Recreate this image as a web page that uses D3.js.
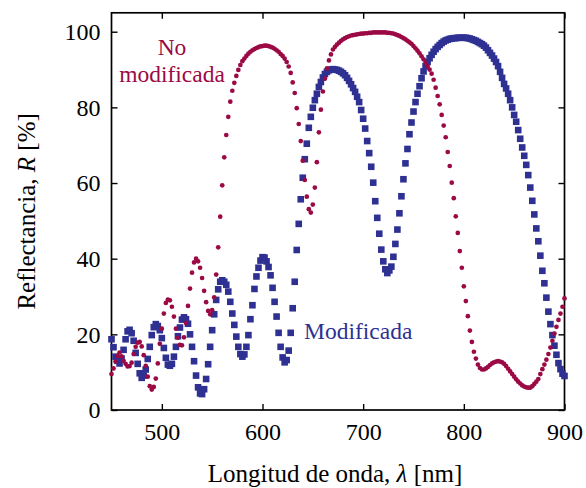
<!DOCTYPE html>
<html>
<head>
<meta charset="utf-8">
<script src="https://cdn.jsdelivr.net/npm/d3@7"></script>
<style>
  html, body { margin: 0; padding: 0; background: #fff; }
  svg text { font-family: "Liberation Serif", "DejaVu Serif", serif; }
</style>
</head>
<body>
<svg id="chart" width="586" height="488"></svg>
<script>
// Wavelength grid (nm), one sample every 2 nm
const wavelengths = d3.range(450, 901, 2);

// Reflectance R [%] of the unmodified sample
const reflNoModificada = [
  9.5, 11.0, 12.8, 14.3, 15.2, 14.2, 13.0, 12.2, 11.5, 11.6,
  12.5, 14.8, 16.7, 17.8, 18.0, 16.8, 14.5, 11.7, 8.8, 6.3,
  5.4, 6.1, 8.3, 12.3, 17.5, 21.5, 25.5, 28.3, 29.2, 29.0,
  27.3, 24.7, 21.5, 19.1, 17.2, 17.1, 19.2, 23.0, 27.5, 32.1,
  36.3, 39.0, 40.0, 39.3, 37.6, 34.9, 31.5, 28.5, 26.2, 25.3,
  26.4, 29.8, 35.8, 43.0, 51.1, 59.4, 66.8, 72.7, 77.5, 81.5,
  84.4, 86.5, 88.3, 89.9, 91.2, 92.2, 92.9, 93.6, 94.2, 94.7,
  95.1, 95.4, 95.7, 95.9, 96.1, 96.2, 96.3, 96.3, 96.2, 96.0,
  95.8, 95.5, 95.1, 94.7, 94.1, 93.6, 92.9, 92.0, 90.8, 89.1,
  86.6, 83.8, 79.8, 75.6, 71.1, 65.9, 60.8, 56.4, 53.1, 52.2,
  54.3, 58.8, 65.5, 73.4, 79.4, 84.2, 87.6, 90.3, 92.4, 94.0,
  95.3, 96.0, 96.6, 97.1, 97.6, 98.0, 98.3, 98.6, 98.8, 99.0,
  99.1, 99.2, 99.3, 99.4, 99.5, 99.5, 99.6, 99.6, 99.7, 99.7,
  99.8, 99.8, 99.8, 99.8, 99.8, 99.8, 99.8, 99.7, 99.7, 99.6,
  99.5, 99.3, 99.1, 98.9, 98.6, 98.3, 98.0, 97.6, 97.2, 96.8,
  96.2, 95.6, 95.0, 94.3, 93.5, 92.7, 91.8, 90.9, 90.0, 88.9,
  87.3, 85.2, 83.0, 80.8, 78.0, 75.2, 72.1, 68.2, 64.5, 60.1,
  56.0, 51.2, 46.8, 42.0, 37.6, 32.7, 28.8, 24.8, 21.0, 18.0,
  15.4, 13.6, 12.0, 11.1, 10.7, 10.7, 11.0, 11.4, 11.9, 12.3,
  12.6, 12.8, 12.9, 12.8, 12.6, 12.2, 11.6, 10.9, 10.2, 9.5,
  8.8, 8.1, 7.5, 7.0, 6.5, 6.2, 6.0, 5.9, 5.9, 6.3,
  6.9, 7.5, 8.2, 9.5, 10.8, 12.0, 13.3, 14.8, 16.5, 18.3,
  20.2, 22.0, 23.8, 25.5, 27.3, 29.5
];

// Reflectance R [%] of the modified sample
const reflModificada = [
  18.7, 16.6, 14.1, 13.0, 12.3, 13.6, 15.9, 18.7, 20.8, 21.2,
  20.3, 18.3, 15.1, 12.2, 9.7, 8.5, 9.1, 10.7, 13.5, 16.7,
  19.8, 21.9, 22.7, 22.2, 21.1, 19.0, 16.4, 13.8, 12.0, 11.7,
  12.2, 14.1, 16.7, 19.5, 21.8, 23.9, 24.5, 24.0, 22.8, 20.0,
  16.7, 12.9, 9.1, 6.0, 4.4, 4.2, 5.5, 8.2, 12.1, 16.7,
  21.1, 25.3, 29.1, 31.9, 33.9, 34.3, 33.9, 33.1, 31.3, 28.6,
  25.5, 22.5, 19.4, 16.7, 14.8, 14.1, 14.7, 16.7, 19.8, 24.0,
  27.7, 32.0, 35.3, 37.6, 39.5, 40.4, 40.3, 39.3, 37.8, 35.6,
  32.3, 28.6, 24.7, 20.4, 16.7, 13.9, 12.6, 13.2, 15.7, 20.4,
  26.9, 33.9, 42.3, 49.2, 55.7, 61.4, 66.3, 70.4, 74.6, 77.5,
  79.9, 81.9, 83.6, 85.4, 86.7, 87.9, 88.8, 89.4, 89.8, 90.0,
  90.1, 90.0, 89.9, 89.7, 89.4, 89.0, 88.5, 87.8, 87.0, 86.1,
  85.1, 84.1, 82.8, 81.4, 79.3, 77.0, 74.4, 71.1, 67.9, 64.3,
  60.1, 55.2, 50.8, 46.6, 42.4, 39.3, 37.2, 36.2, 36.9, 37.9,
  40.5, 43.9, 47.7, 52.0, 56.5, 61.0, 65.2, 69.0, 72.9, 76.0,
  78.9, 81.4, 83.6, 85.6, 87.7, 89.5, 90.9, 92.0, 93.0, 93.9,
  94.7, 95.4, 96.0, 96.5, 97.0, 97.4, 97.7, 97.9, 98.1, 98.2,
  98.3, 98.3, 98.4, 98.4, 98.4, 98.4, 98.4, 98.3, 98.2, 98.0,
  97.8, 97.6, 97.3, 97.0, 96.7, 96.3, 95.8, 95.1, 94.4, 93.7,
  92.9, 92.0, 90.9, 89.4, 87.8, 86.2, 85.0, 83.6, 81.9, 80.0,
  78.0, 76.2, 74.0, 71.7, 69.4, 67.2, 64.8, 62.1, 58.8, 55.3,
  51.7, 48.0, 44.6, 40.8, 36.8, 33.5, 29.7, 26.0, 22.7, 19.8,
  17.0, 14.6, 12.4, 10.8, 9.6, 9.0
];

const xTicks = [500, 600, 700, 800, 900];
const yTicks = [0, 20, 40, 60, 80, 100];

const colorNoMod = "#9b0a45";
const colorMod = "#2e3192";

const svg = d3.select("#chart");
const plot = { left: 111.5, right: 564.5, top: 12.8, bottom: 410 };

const x = d3.scaleLinear().domain([450, 900]).range([plot.left, plot.right]);
const y = d3.scaleLinear().domain([0, 105]).range([plot.bottom, plot.top]);

const TICK = 6;
const tickFont = "24px";

// Bottom axis with labels, ticks pointing inward
const gBottom = svg.append("g")
  .attr("transform", `translate(0,${plot.bottom})`)
  .call(d3.axisBottom(x).tickValues(xTicks).tickSizeInner(-TICK).tickSizeOuter(0).tickPadding(13));

// Left axis with labels
const gLeft = svg.append("g")
  .attr("transform", `translate(${plot.left},0)`)
  .call(d3.axisLeft(y).tickValues(yTicks).tickSizeInner(-TICK).tickSizeOuter(0).tickPadding(11));

// Mirrored ticks on top and right
const gTop = svg.append("g")
  .attr("transform", `translate(0,${plot.top})`)
  .call(d3.axisTop(x).tickValues(xTicks).tickSizeInner(-TICK).tickSizeOuter(0).tickFormat(""));
const gRight = svg.append("g")
  .attr("transform", `translate(${plot.right},0)`)
  .call(d3.axisRight(y).tickValues(yTicks).tickSizeInner(-TICK).tickSizeOuter(0).tickFormat(""));

[gBottom, gLeft, gTop, gRight].forEach(g => {
  g.select(".domain").remove();
  g.selectAll(".tick line").attr("stroke", "#000").attr("stroke-width", 1.4);
  g.selectAll(".tick text")
    .attr("fill", "#000")
    .style("font-family", '"Liberation Serif", serif')
    .style("font-size", tickFont);
});

// Frame
svg.append("rect")
  .attr("x", plot.left).attr("y", plot.top)
  .attr("width", plot.right - plot.left).attr("height", plot.bottom - plot.top)
  .attr("fill", "none").attr("stroke", "#000").attr("stroke-width", 1.7);

// Modified sample: squares
const SQ = 6.6;
svg.append("g").selectAll("rect")
  .data(wavelengths.map((w, i) => [w, reflModificada[i]]))
  .join("rect")
  .attr("x", d => x(d[0]) - SQ / 2)
  .attr("y", d => y(d[1]) - SQ / 2)
  .attr("width", SQ).attr("height", SQ)
  .attr("fill", colorMod);

// Unmodified sample: dots
svg.append("g").selectAll("circle")
  .data(wavelengths.map((w, i) => [w, reflNoModificada[i]]))
  .join("circle")
  .attr("cx", d => x(d[0]))
  .attr("cy", d => y(d[1]))
  .attr("r", 2.35)
  .attr("fill", colorNoMod);

// Series labels
const labelFont = "23.5px";
const noModLabel = svg.append("text")
  .attr("x", 172).attr("y", 55)
  .attr("text-anchor", "middle")
  .attr("fill", colorNoMod)
  .style("font-size", labelFont);
noModLabel.append("tspan").attr("x", 172).attr("y", 55).text("No");
noModLabel.append("tspan").attr("x", 172).attr("y", 82).text("modificada");

svg.append("text")
  .attr("x", 304).attr("y", 339)
  .attr("fill", colorMod)
  .style("font-size", labelFont)
  .text("Modificada");

// Axis titles
const xTitle = svg.append("text")
  .attr("x", (plot.left + plot.right) / 2 - 3).attr("y", 482)
  .attr("text-anchor", "middle")
  .style("font-size", "25px");
xTitle.append("tspan").text("Longitud de onda, ");
xTitle.append("tspan").style("font-style", "italic").text("λ");
xTitle.append("tspan").text(" [nm]");

const yTitle = svg.append("text")
  .attr("transform", `translate(35,${(plot.top + plot.bottom) / 2}) rotate(-90)`)
  .attr("text-anchor", "middle")
  .style("font-size", "25px");
yTitle.append("tspan").text("Reflectancia, ");
yTitle.append("tspan").style("font-style", "italic").text("R");
yTitle.append("tspan").text(" [%]");
</script>
</body>
</html>
